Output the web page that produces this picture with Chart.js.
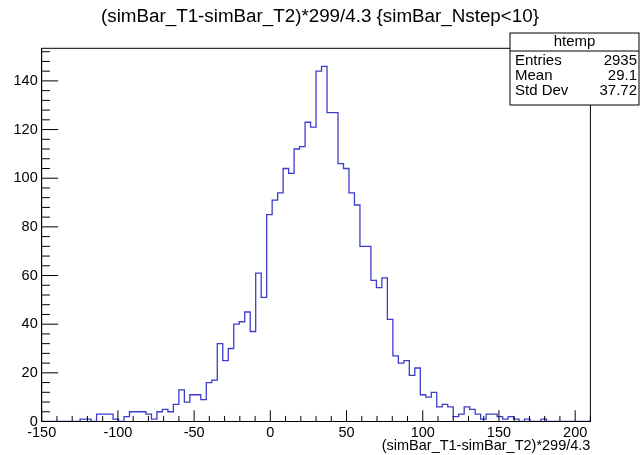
<!DOCTYPE html>
<html lang="en">
<head>
    <meta charset="UTF-8">
    <title>htemp</title>
    <script src="https://cdn.jsdelivr.net/npm/chart.js"></script>
    <style>
        html, body { margin: 0; padding: 0; background: #fff; }
        #wrap { width: 640px; height: 455px; }
    </style>
</head>
<body>
    <div id="wrap"><canvas id="histChart"></canvas></div>

    <script>
        // htemp: 100 bins between -150 and 210
        const xMin = -150;
        const xMax = 210;
        const binWidth = 3.6;
        const yMax = 153.4;
        const counts = [
            0, 0, 0, 0, 0, 0, 0, 1, 1, 0,
            3, 3, 3, 1, 0, 2, 4, 4, 4, 3,
            1, 4, 5, 4, 7, 13, 8, 11, 11, 9,
            16, 17, 32, 25, 30, 40, 41, 45, 37, 61,
            51, 85, 91, 94, 104, 102, 112, 113, 123, 121,
            144, 146, 127, 127, 106, 104, 94, 89, 72, 72,
            58, 55, 59, 42, 27, 24, 25, 19, 22, 11,
            10, 12, 6, 7, 6, 2, 3, 6, 5, 3,
            1, 3, 3, 2, 1, 2, 1, 0, 1, 0,
            0, 1, 0, 0, 0, 0, 0, 0, 0, 0
        ];
        const titleText = '(simBar_T1-simBar_T2)*299/4.3 {simBar_Nstep<10}';
        const xTitle = '(simBar_T1-simBar_T2)*299/4.3';
        const statsName = 'htemp';
        const statsLabels = ['Entries', 'Mean', 'Std Dev'];
        const statsValues = ['2935', '29.1', '37.72'];

        const FONT = "'Liberation Sans', Arial, sans-serif";

        // left bin edges + closing point at the upper edge
        const points = counts.map((c, i) => ({ x: xMin + i * binWidth, y: c }));
        points.push({ x: xMax, y: counts[counts.length - 1] });

        // ROOT style pad title, frame, inward ticks and the stats box
        const rootFrame = {
            id: 'rootFrame',
            afterDraw(chart) {
                const { ctx, chartArea: a, scales: { x, y } } = chart;
                ctx.save();

                // title centred on the whole canvas, like the ROOT pad
                ctx.fillStyle = '#000';
                ctx.font = '18.8px ' + FONT;
                ctx.textAlign = 'center';
                ctx.textBaseline = 'middle';
                ctx.fillText(titleText, chart.width / 2, 17);

                ctx.strokeStyle = '#000';
                ctx.lineWidth = 1;
                ctx.strokeRect(a.left, a.top, a.right - a.left, a.bottom - a.top);

                ctx.beginPath();
                const xLen = 0.03 * (a.bottom - a.top);
                for (let v = xMin; v <= xMax + 0.001; v += 10) {
                    const px = x.getPixelForValue(v);
                    const len = (v % 50 === 0) ? xLen : xLen / 2;
                    ctx.moveTo(px, a.bottom);
                    ctx.lineTo(px, a.bottom - len);
                }
                const yLen = 0.03 * (a.right - a.left);
                for (let v = 0; v <= yMax; v += 4) {
                    const py = y.getPixelForValue(v);
                    const len = (v % 20 === 0) ? yLen : yLen / 2;
                    ctx.moveTo(a.left, py);
                    ctx.lineTo(a.left + len, py);
                }
                ctx.stroke();

                // stats box
                const bx = 510, by = 33, bw = 129, bh = 72;
                ctx.fillStyle = '#fff';
                ctx.fillRect(bx, by, bw, bh);
                ctx.strokeRect(bx, by, bw, bh);
                ctx.beginPath();
                ctx.moveTo(bx, by + 18);
                ctx.lineTo(bx + bw, by + 18);
                ctx.stroke();

                ctx.fillStyle = '#000';
                ctx.font = '15px ' + FONT;
                ctx.textBaseline = 'middle';
                ctx.textAlign = 'center';
                ctx.fillText(statsName, bx + bw / 2, by + 9);
                statsLabels.forEach((lab, i) => {
                    const ty = by + 28 + i * 14.8;
                    ctx.textAlign = 'left';
                    ctx.fillText(lab, bx + 5, ty);
                    ctx.textAlign = 'right';
                    ctx.fillText(statsValues[i], bx + bw - 2, ty);
                });
                ctx.restore();
            }
        };

        const ctx = document.getElementById('histChart').getContext('2d');
        const histChart = new Chart(ctx, {
            type: 'line',
            data: {
                datasets: [{
                    label: statsName,
                    data: points,
                    stepped: true,
                    borderColor: '#3d3dcc',
                    borderWidth: 1.3,
                    pointRadius: 0,
                    fill: false
                }]
            },
            options: {
                responsive: true,
                maintainAspectRatio: false,
                animation: false,
                layout: { padding: { left: 0, top: 48.3, right: 49.6, bottom: 0 } },
                plugins: {
                    legend: { display: false },
                    tooltip: { enabled: false },
                    title: { display: false }
                },
                scales: {
                    x: {
                        type: 'linear',
                        min: xMin,
                        max: xMax,
                        afterFit: (scale) => { scale.height = 33.5; },
                        grid: { display: false, drawTicks: false },
                        border: { display: true, color: '#000' },
                        ticks: {
                            stepSize: 50,
                            includeBounds: false,
                            color: '#000',
                            padding: 3,
                            maxRotation: 0,
                            font: { family: FONT, size: 14.5 }
                        },
                        title: {
                            display: true,
                            text: xTitle,
                            align: 'end',
                            color: '#000',
                            font: { family: FONT, size: 14.5 },
                            padding: { top: 0, bottom: 0 }
                        }
                    },
                    y: {
                        min: 0,
                        max: yMax,
                        afterFit: (scale) => { scale.width = 41.7; },
                        grid: { display: false, drawTicks: false },
                        border: { display: true, color: '#000' },
                        ticks: {
                            stepSize: 20,
                            includeBounds: false,
                            color: '#000',
                            padding: 4,
                            font: { family: FONT, size: 14.5 }
                        }
                    }
                }
            },
            plugins: [rootFrame]
        });
    </script>
</body>
</html>
